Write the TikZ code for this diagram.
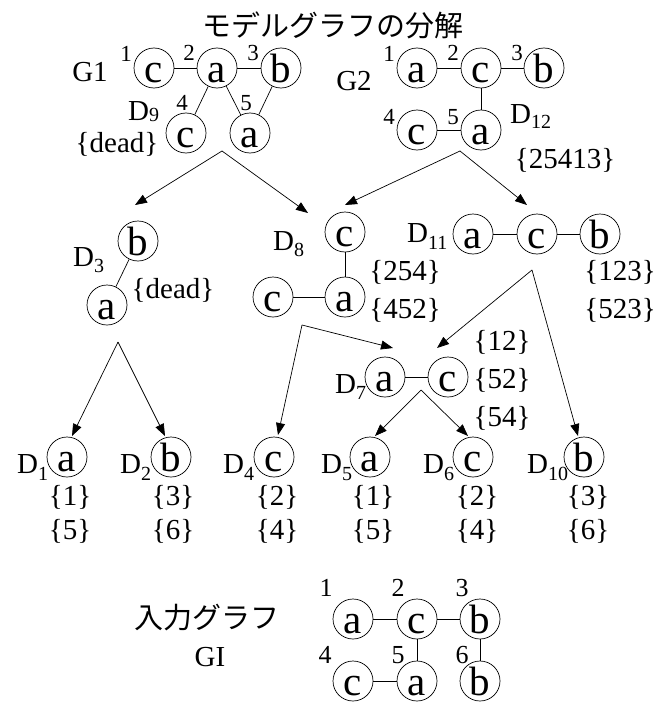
\documentclass[tikz,border=0pt]{standalone}
\usepackage{fontspec}
\setmainfont{Liberation Serif}
\newfontfamily\jpfont{Noto Sans CJK JP}
\usetikzlibrary{arrows.meta}
\newcommand\Dl[2][6pt]{D\raisebox{-#1}{\fontsize{20}{20}\selectfont #2}}
\begin{document}
\begin{tikzpicture}[x=1pt,y=-1pt,
 vtx/.style={circle,draw,line width=0.7pt,minimum size=40pt,inner sep=0pt,text height=28pt,text depth=0pt,font=\fontsize{41}{41}\selectfont},
 edge/.style={line width=0.7pt},
 arr/.style={line width=0.7pt,-{Triangle[length=12pt,width=9pt]}},
 lbl/.style={inner sep=0pt,font=\fontsize{29}{29}\selectfont},
 num/.style={inner sep=0pt,font=\fontsize{23}{23}\selectfont},
 bnum/.style={inner sep=0pt,font=\fontsize{26}{26}\selectfont},
 dl/.style={inner sep=0pt,anchor=base west,font=\fontsize{29}{29}\selectfont},
 jp/.style={inner sep=0pt,font=\jpfont\fontsize{29}{29}\selectfont}]
\useasboundingbox (0,0) rectangle (671,709);

% title
\node[jp] (title) at (333,25) {モデルグラフの分解};

% G1
\node[lbl] (g1) at (90,72) {G1};
\node[vtx] (g1c1) at (154,68) {c};
\node[vtx] (g1a2) at (217,68) {a};
\node[vtx] (g1b3) at (281,68) {b};
\node[vtx] (g1c4) at (186,133) {c};
\node[vtx] (g1a5) at (250,133) {a};
\node[num] (g1n1) at (126,54) {1};
\node[num] (g1n2) at (189,53) {2};
\node[num] (g1n3) at (253,53) {3};
\node[num] (g1n4) at (182,103) {4};
\node[num] (g1n5) at (246,103) {5};
\node[dl] (d9) at (128,120) {\Dl[1pt]{9}};
\node[lbl] (g1dead) at (117,144) {\{dead\}};
\draw[edge] (g1c1) -- (g1a2);
\draw[edge] (g1a2) -- (g1b3);
\draw[edge] (g1a2) -- (g1c4);
\draw[edge] (g1a2) -- (g1a5);
\draw[edge] (g1b3) -- (g1a5);

% G2
\node[lbl] (g2) at (354,81) {G2};
\node[vtx] (g2a1) at (417,68) {a};
\node[vtx] (g2c2) at (481,68) {c};
\node[vtx] (g2b3) at (544,68) {b};
\node[vtx] (g2c4) at (417,130) {c};
\node[vtx] (g2a5) at (481,130) {a};
\node[num] (g2n1) at (389,54) {1};
\node[num] (g2n2) at (453,53) {2};
\node[num] (g2n3) at (517,53) {3};
\node[num] (g2n4) at (389,117) {4};
\node[num] (g2n5) at (453,117) {5};
\node[dl] (d12) at (510,123) {\Dl[5pt]{12}};
\node[lbl] (g2set) at (565,160) {\{25413\}};
\draw[edge] (g2a1) -- (g2c2);
\draw[edge] (g2c2) -- (g2b3);
\draw[edge] (g2c2) -- (g2a5);
\draw[edge] (g2c4) -- (g2a5);

% D3
\node[dl] (d3) at (73,266) {\Dl{3}};
\node[vtx] (d3b) at (138,241) {b};
\node[vtx] (d3a) at (107,305) {a};
\node[lbl] (d3dead) at (173,290) {\{dead\}};
\draw[edge] (d3b) -- (d3a);

% D8
\node[dl] (d8) at (273,250) {\Dl{8}};
\node[vtx] (d8c) at (345,232) {c};
\node[vtx] (d8a) at (345,297) {a};
\node[vtx] (d8c2) at (273,297) {c};
\node[lbl] (d8s1) at (405,272) {\{254\}};
\node[lbl] (d8s2) at (405,310) {\{452\}};
\draw[edge] (d8c) -- (d8a);
\draw[edge] (d8c2) -- (d8a);

% D11
\node[dl] (d11) at (407,242) {\Dl[7pt]{11}};
\node[vtx] (d11a) at (473,234) {a};
\node[vtx] (d11c) at (537,234) {c};
\node[vtx] (d11b) at (600,234) {b};
\node[lbl] (d11s1) at (620,272) {\{123\}};
\node[lbl] (d11s2) at (620,310) {\{523\}};
\draw[edge] (d11a) -- (d11c);
\draw[edge] (d11c) -- (d11b);

% D7
\node[dl] (d7) at (335,393) {\Dl{7}};
\node[vtx] (d7a) at (385,377) {a};
\node[vtx] (d7c) at (448,377) {c};
\node[lbl] (d7s1) at (502,342) {\{12\}};
\node[lbl] (d7s2) at (502,380) {\{52\}};
\node[lbl] (d7s3) at (502,418) {\{54\}};
\draw[edge] (d7a) -- (d7c);

% leaves
\node[dl] (d1) at (17,473) {\Dl[7pt]{1}};
\node[vtx] (d1a) at (67,457) {a};
\node[lbl] (d1s1) at (70,497) {\{1\}};
\node[lbl] (d1s2) at (70,531) {\{5\}};

\node[dl] (d2) at (120,473) {\Dl[7pt]{2}};
\node[vtx] (d2b) at (171,457) {b};
\node[lbl] (d2s1) at (173,497) {\{3\}};
\node[lbl] (d2s2) at (173,531) {\{6\}};

\node[dl] (d4) at (223,473) {\Dl[7pt]{4}};
\node[vtx] (d4c) at (274,457) {c};
\node[lbl] (d4s1) at (277,497) {\{2\}};
\node[lbl] (d4s2) at (277,531) {\{4\}};

\node[dl] (d5) at (321,473) {\Dl[7pt]{5}};
\node[vtx] (d5a) at (370,457) {a};
\node[lbl] (d5s1) at (373,497) {\{1\}};
\node[lbl] (d5s2) at (373,531) {\{5\}};

\node[dl] (d6) at (423,473) {\Dl[7pt]{6}};
\node[vtx] (d6c) at (473,457) {c};
\node[lbl] (d6s1) at (477,497) {\{2\}};
\node[lbl] (d6s2) at (477,531) {\{4\}};

\node[dl] (d10) at (527,473) {\Dl[7pt]{10}};
\node[vtx] (d10b) at (584,457) {b};
\node[lbl] (d10s1) at (588,497) {\{3\}};
\node[lbl] (d10s2) at (588,531) {\{6\}};

% arrows
\coordinate (ap1) at (222,151);
\coordinate (e1a) at (135,205);
\coordinate (e1b) at (308,213);
\coordinate (ap2) at (460,151);
\coordinate (e2a) at (345,205);
\coordinate (e2b) at (527,205);
\coordinate (ap3) at (118,342);
\coordinate (e3a) at (72,436);
\coordinate (e3b) at (165,436);
\coordinate (ap8) at (302,325);
\coordinate (e8a) at (393,348);
\coordinate (e8b) at (278,435);
\coordinate (ap11) at (532,270);
\coordinate (e11a) at (437,348);
\coordinate (e11b) at (578,436);
\coordinate (ap7) at (421,390);
\coordinate (e7a) at (375,436);
\coordinate (e7b) at (468,436);
\draw[arr] (ap1) -- (e1a);
\draw[arr] (ap1) -- (e1b);
\draw[arr] (ap2) -- (e2a);
\draw[arr] (ap2) -- (e2b);
\draw[arr] (ap3) -- (e3a);
\draw[arr] (ap3) -- (e3b);
\draw[arr] (ap8) -- (e8a);
\draw[arr] (ap8) -- (e8b);
\draw[arr] (ap11) -- (e11a);
\draw[arr] (ap11) -- (e11b);
\draw[arr] (ap7) -- (e7a);
\draw[arr] (ap7) -- (e7b);

% input graph
\node[jp] (intitle) at (207,618) {入力グラフ};
\node[lbl] (gi) at (210,657) {GI};
\node[vtx] (gia1) at (353,619) {a};
\node[vtx] (gic2) at (417,619) {c};
\node[vtx] (gib3) at (480,619) {b};
\node[vtx] (gic4) at (353,681) {c};
\node[vtx] (gia5) at (417,681) {a};
\node[vtx] (gib6) at (480,681) {b};
\node[bnum] (gin1) at (326,588) {1};
\node[bnum] (gin2) at (398,588) {2};
\node[bnum] (gin3) at (462,588) {3};
\node[bnum] (gin4) at (325,655) {4};
\node[bnum] (gin5) at (398,655) {5};
\node[bnum] (gin6) at (462,655) {6};
\draw[edge] (gia1) -- (gic2);
\draw[edge] (gic2) -- (gib3);
\draw[edge] (gic2) -- (gia5);
\draw[edge] (gic4) -- (gia5);
\draw[edge] (gib3) -- (gib6);
\end{tikzpicture}
\end{document}
